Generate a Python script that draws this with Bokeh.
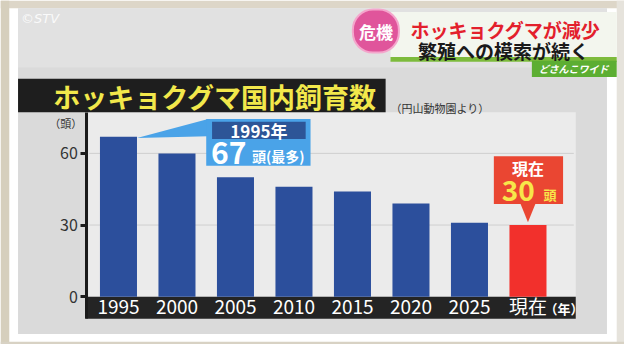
from bokeh.plotting import figure
from bokeh.models import Range1d, FixedTicker, BoxAnnotation, PolyAnnotation, Label
from bokeh.embed import file_html
from bokeh.resources import INLINE

# ---- data ----
categories = ["1995", "2000", "2005", "2010", "2015", "2020", "2025", "現在"]
counts = [67, 60, 50, 46, 44, 39, 31, 30]
bar_colors = ["#2c4f9c"] * 7 + ["#f2302c"]
y_ticks = [0, 30, 60]
title_text = "ホッキョクグマ国内飼育数"
source_text = "（円山動物園より）"
unit_y = "（頭）"
unit_x = "（年）"

JP = "Noto Sans CJK JP"

positions = list(range(len(categories)))

# the canvas represents the whole 640x360 reference frame;
# bar 0 centred at ref x=121, value 0 at ref y=310, 60 px per category, 2.5 px per head
p = figure(width=624, height=344, output_backend="svg", toolbar_location=None,
           x_range=Range1d(-121 / 60.0, (640 - 121) / 60.0),
           y_range=Range1d((310 - 360) / 2.5, 310 / 2.5),
           min_border=0)
p.background_fill_color = "white"
p.border_fill_color = "white"
p.outline_line_color = None
p.xgrid.grid_line_color = None
p.ygrid.grid_line_color = None


# helpers: reference-screen pixel -> data coordinates (decoration placement only)
def sx(X):
    return (X - 121) / 60.0


def sy(Y):
    return (310 - Y) / 2.5


def box(l, r, t, b, color, level="underlay", alpha=1.0):
    p.add_layout(BoxAnnotation(left=sx(l), right=sx(r), top=sy(t), bottom=sy(b),
                               fill_color=color, fill_alpha=alpha, line_color=None,
                               level=level))


# studio backdrop and white frame
box(0, 640, 0, 8, "#ddd6c8")
box(0, 9, 0, 360, "#d6cfbd")
box(632, 640, 0, 360, "#e6e3dc")
box(0, 640, 357, 360, "#d8d2c4")
# panel
box(18, 622, 8, 349, "#dadada")
box(90, 590, 117, 310, "#ebebeb")
box(18, 622, 8, 70, "#e6e6e6", alpha=0.6)
# bottom band behind x labels
box(87, 590, 310, 333, "#242424")
# title band
box(18, 395, 82, 117, "#1e1e1e")

# grid lines (data-driven from tick list)
p.segment(x0=[sx(91)] * len(y_ticks[1:]), x1=[sx(588)] * len(y_ticks[1:]),
          y0=y_ticks[1:], y1=y_ticks[1:], line_color="#cfcfcf", line_width=1)

p.vbar(x=positions, top=counts, width=0.633, fill_color=bar_colors, line_color=None)

# axes drawn inside the canvas at fixed positions
yax = p.yaxis[0]
yax.fixed_location = sx(88.5)
yax.bounds = (sy(333), sy(117))
yax.ticker = FixedTicker(ticks=y_ticks)
yax.axis_line_width = 3
yax.axis_line_color = "#1a1a1a"
yax.major_tick_out = 6
yax.major_tick_in = 0
yax.major_tick_line_width = 3
yax.major_tick_line_color = "#1a1a1a"
yax.minor_tick_line_color = None
yax.major_label_text_font = JP
yax.major_label_text_font_size = "16px"
yax.major_label_text_color = "#333333"
yax.major_label_standoff = 3

xax = p.xaxis[0]
xax.fixed_location = sy(298.5)
xax.bounds = (sx(87), sx(590))
xax.ticker = FixedTicker(ticks=positions)
xax.major_label_overrides = {i: c for i, c in enumerate(categories)}
xax.axis_line_color = None
xax.major_tick_line_color = None
xax.minor_tick_line_color = None
xax.major_label_text_font = JP
xax.major_label_text_font_size = "19px"
xax.major_label_text_color = "white"
xax.major_label_standoff = 0

# titles / units
p.add_layout(Label(x=sx(54), y=sy(100), text=title_text, text_font=JP, text_font_size="27px",
                   text_font_style="bold", text_color="#f2e84b", text_baseline="middle"))
p.add_layout(Label(x=sx(400), y=sy(113), text=source_text, text_font=JP, text_font_size="11px",
                   text_color="#333333", text_baseline="middle"))
p.add_layout(Label(x=sx(67), y=sy(128), text=unit_y, text_font=JP, text_font_size="11px",
                   text_color="#333333", text_baseline="middle", text_align="center"))
p.add_layout(Label(x=sx(578), y=sy(322), text=unit_x, text_font=JP, text_font_size="13px",
                   text_font_style="bold", text_color="white", text_baseline="middle",
                   text_align="center"))

# 1995 callout
p.add_layout(PolyAnnotation(xs=[sx(140), sx(213), sx(213)], ys=[sy(144), sy(124), sy(142)],
                            fill_color="#4aa3e8", fill_alpha=1, line_color=None))
box(211, 318, 124, 173, "#4aa3e8", level="annotation")
box(217, 313, 127, 145, "#2d5597", level="annotation")
p.add_layout(Label(x=sx(265), y=sy(136), text=categories[0] + "年", text_font=JP,
                   text_font_size="17px", text_font_style="bold", text_color="white",
                   text_align="center", text_baseline="middle"))
p.add_layout(Label(x=sx(216), y=sy(160), text=str(counts[0]), text_font=JP,
                   text_font_size="30px", text_font_style="bold", text_color="white",
                   text_baseline="middle"))
p.add_layout(Label(x=sx(258), y=sy(163), text="頭(最多)", text_font=JP,
                   text_font_size="14px", text_font_style="bold", text_color="white",
                   text_baseline="middle"))

# current callout
p.add_layout(PolyAnnotation(xs=[sx(533), sx(549), sx(541)], ys=[sy(212), sy(212), sy(232)],
                            fill_color="#ea4632", fill_alpha=1, line_color=None))
box(506, 577, 163, 213, "#ea4632", level="annotation")
p.add_layout(Label(x=sx(541), y=sy(175), text=categories[-1], text_font=JP,
                   text_font_size="16px", text_font_style="bold", text_color="white",
                   text_align="center", text_baseline="middle"))
p.add_layout(Label(x=sx(514), y=sy(199), text=str(counts[-1]), text_font=JP,
                   text_font_size="28px", text_font_style="bold", text_color="#f7e64a",
                   text_baseline="middle"))
p.add_layout(Label(x=sx(557), y=sy(203), text="頭", text_font=JP,
                   text_font_size="13px", text_font_style="bold", text_color="#f7e64a",
                   text_baseline="middle"))

# broadcast header
box(400, 632, 12, 62, "#f3f6ee")
box(400, 632, 59, 64, "#7dbb3c")
box(545, 632, 63, 80, "#5cae32")
p.add_layout(Label(x=sx(385), y=sy(32), text="危機", text_font=JP, text_font_size="17px",
                   text_font_style="bold", text_color="white", text_align="center",
                   text_baseline="middle", background_fill_color="#e0559b",
                   border_line_color="#f4a6cc", border_line_width=2,
                   padding=(6, 9), border_radius=20))
p.add_layout(Label(x=sx(518), y=sy(30), text="ホッキョクグマが減少", text_font=JP,
                   text_font_size="19px", text_font_style="bold", text_color="#e3202c",
                   text_align="center", text_baseline="middle"))
p.add_layout(Label(x=sx(516), y=sy(52), text="繁殖への模索が続く", text_font=JP,
                   text_font_size="19px", text_font_style="bold", text_color="#1a1a1a",
                   text_align="center", text_baseline="middle"))
p.add_layout(Label(x=sx(588), y=sy(71), text="どさんこワイド", text_font=JP,
                   text_font_size="10px", text_font_style="bold italic", text_color="white",
                   text_align="center", text_baseline="middle"))
p.add_layout(Label(x=sx(21), y=sy(19), text="©STV", text_font="DejaVu Sans",
                   text_font_size="13px", text_font_style="italic", text_color="white",
                   text_alpha=0.85, text_baseline="middle"))

open("out.html", "w").write(file_html(p, INLINE))
